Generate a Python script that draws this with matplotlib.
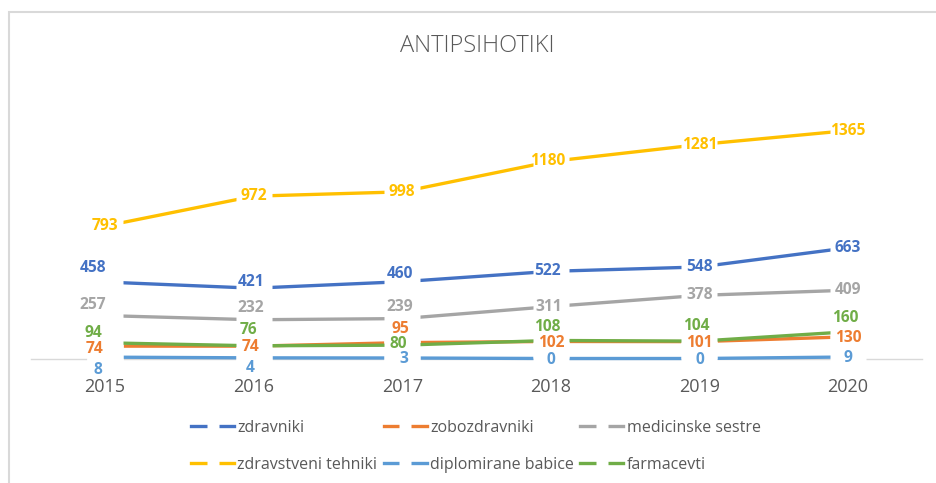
import matplotlib
matplotlib.use("Agg")
import matplotlib.pyplot as plt
from matplotlib.lines import Line2D
from matplotlib.patches import Rectangle

# ---- data ----
years = ["2015", "2016", "2017", "2018", "2019", "2020"]
zdravniki = [458, 421, 460, 522, 548, 663]
zobozdravniki = [74, 74, 95, 102, 101, 130]
medicinske_sestre = [257, 232, 239, 311, 378, 409]
zdravstveni_tehniki = [793, 972, 998, 1180, 1281, 1365]
diplomirane_babice = [8, 4, 3, 0, 0, 9]
farmacevti = [94, 76, 80, 108, 104, 160]

series_names = ["zdravniki", "zobozdravniki", "medicinske sestre",
                "zdravstveni tehniki", "diplomirane babice", "farmacevti"]
series_values = [zdravniki, zobozdravniki, medicinske_sestre,
                 zdravstveni_tehniki, diplomirane_babice, farmacevti]
colors = ["#4472C4", "#ED7D31", "#A5A5A5", "#FFC000", "#5B9BD5", "#70AD47"]

# label offsets in pixels (dx, dy with dy pointing down in the image)
label_offsets = [
    [(-12, -14), (-3, -6), (-2, -8), (-3, 0), (0, 0), (0, 0)],
    [(-10, 3), (-3, 1), (-2, -14), (0, 2), (0, 1), (0, 1)],
    [(-12, -11), (-3, -12), (-2, -12), (-2, 0), (0, 0), (0, 0)],
    [(0, 0), (0, 0), (0, 0), (-3, 0), (0, 0), (0, 0)],
    [(-7, 13), (-3, 10), (2, 1), (0, 1), (0, 1), (0, 1)],
    [(-12, -10), (-5, -16), (-4, -1), (-4, -13), (-3, -15), (-3, -14)],
]

W, H, DPI = 936, 483, 100
fig = plt.figure(figsize=(W / DPI, H / DPI), dpi=DPI)
fig.patch.set_facecolor("white")

# chart border (extends beyond right/bottom edges)
fig.add_artist(Rectangle((9 / W, -0.2), 1.2, (H - 12) / H + 0.2,
                         transform=fig.transFigure, fill=False,
                         edgecolor="#D9D9D9", linewidth=1.5))

x0, x1 = 30.7, 922.3
ytop, ybot = 91.3, 358.5
ax = fig.add_axes([x0 / W, (H - ybot) / H, (x1 - x0) / W, (ybot - ytop) / H])
ax.set_facecolor("none")

xs = list(range(len(years)))
for name, vals, c in zip(series_names, series_values, colors):
    ax.plot(xs, vals, color=c, linewidth=2.4, solid_capstyle="round",
            marker="s", markersize=26, markerfacecolor="white",
            markeredgecolor="none", zorder=3, clip_on=False, label=name)

for vals, c, offs in zip(series_values, colors, label_offsets):
    for i, v in enumerate(vals):
        dx, dy = offs[i]
        ax.annotate(str(v), (i, v), xytext=(dx, -dy), textcoords="offset pixels",
                    ha="center", va="center", color=c, fontsize=11.2,
                    fontweight="bold", family=["Open Sans", "DejaVu Sans"],
                    zorder=10, annotation_clip=False)

ax.set_xlim(-0.5, len(years) - 0.5)
ax.set_ylim(0, 1600)
ax.set_xticks(xs)
ax.set_xticklabels(years, fontsize=13, color="#595959",
                   family=["Open Sans", "DejaVu Sans"])
ax.tick_params(axis="x", length=0, pad=14)
ax.set_yticks([])
for s in ["top", "left", "right"]:
    ax.spines[s].set_visible(False)
ax.spines["bottom"].set_color("#D9D9D9")
ax.spines["bottom"].set_linewidth(1.0)
ax.spines["bottom"].set_zorder(1)

fig.text(477.5 / W, 1 - 46 / H, "ANTIPSIHOTIKI", ha="center", va="center",
         fontsize=17, color="#595959", family=["Open Sans", "DejaVu Sans"],
         fontweight="light")

# legend (row-major order like the reference)
handles = [Line2D([0], [0], color=c, linewidth=2.4, marker="s", markersize=8,
                  markerfacecolor="white", markeredgecolor="none")
           for c in colors]
order = [0, 3, 1, 4, 2, 5]
leg = fig.legend([handles[i] for i in order], [series_names[i] for i in order],
                 ncol=3, loc="upper left",
                 bbox_to_anchor=(191 / W, 1 - 420 / H), frameon=False,
                 borderpad=0, borderaxespad=0, handlelength=2.7,
                 handletextpad=0.2, columnspacing=0.4, labelspacing=1.3,
                 prop={"family": ["Open Sans", "DejaVu Sans"], "size": 11.5})
for t in leg.get_texts():
    t.set_color("#595959")

fig.savefig("out.png", dpi=DPI, facecolor="white")
